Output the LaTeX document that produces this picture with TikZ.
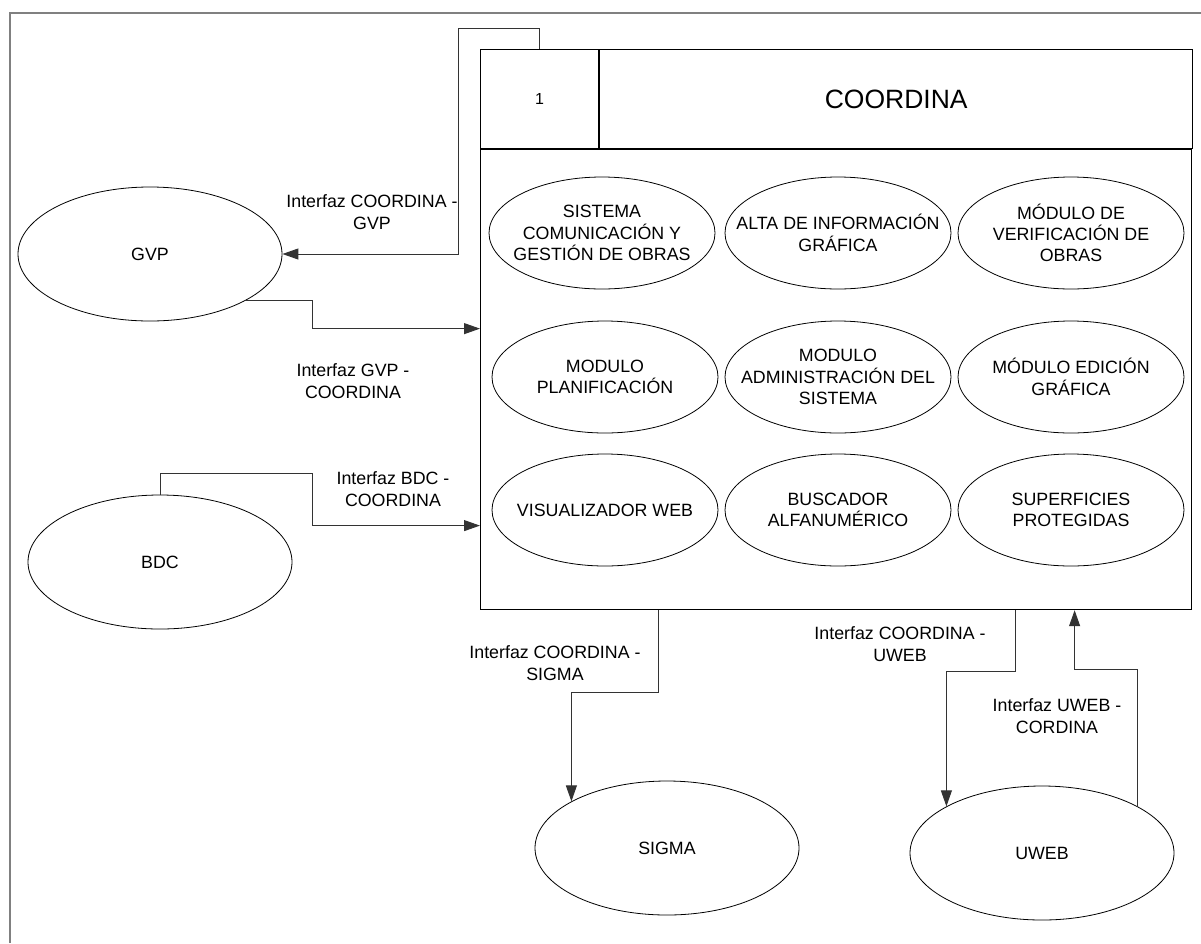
\documentclass[tikz,border=0pt]{standalone}
\usepackage{fontspec}
\setmainfont{Liberation Sans}
\usetikzlibrary{shapes.geometric,arrows.meta,calc}

\begin{document}
\begin{tikzpicture}[
    x=1pt, y=-1pt,
    every node/.style={font=\fontsize{17.8}{21.3}\selectfont},
    hdr/.style={draw, line width=1.1pt, minimum height=99pt, anchor=north west, inner sep=0pt},
    mod/.style={draw, ellipse, line width=0.8pt, minimum width=226pt, minimum height=112pt, inner xsep=-45pt, inner ysep=-15pt, align=center},
    ext/.style={draw, ellipse, line width=0.8pt, minimum width=264pt, minimum height=134pt, inner sep=0pt},
    lbl/.style={align=center, inner sep=0pt},
    flow/.style={draw=black!80, line width=1pt, -{Triangle[length=16pt,width=11pt]}}
  ]
  \useasboundingbox (0,0) rectangle (1201,943);
  \draw[black!50, line width=1.6pt] (10,943) -- (10,13) -- (1201,13);

  % process box
  \node[hdr, minimum width=118pt, font=\fontsize{16}{19}\selectfont] (num) at (480,49) {1};
  \node[hdr, minimum width=593pt, font=\fontsize{26.5}{30}\selectfont] (title) at (num.north east) {COORDINA};
  \node[hdr, minimum width=711pt, minimum height=460pt] (coord) at (num.south west) {};

  % modules
  \node[mod] (sis) at (602,233) {SISTEMA\\COMUNICACIÓN Y\\GESTIÓN DE OBRAS};
  \node[mod] (alta) at (838,233) {ALTA DE INFORMACIÓN\\GRÁFICA};
  \node[mod] (ver) at (1071,233) {MÓDULO DE\\VERIFICACIÓN DE\\OBRAS};
  \node[mod] (plan) at (605,377) {MODULO\\PLANIFICACIÓN};
  \node[mod] (adm) at (838,377) {MODULO\\ADMINISTRACIÓN DEL\\SISTEMA};
  \node[mod] (edi) at (1071,377) {MÓDULO EDICIÓN\\GRÁFICA};
  \node[mod] (vis) at (605,510) {VISUALIZADOR WEB};
  \node[mod] (bus) at (838,510) {BUSCADOR\\ALFANUMÉRICO};
  \node[mod] (sup) at (1071,510) {SUPERFICIES\\PROTEGIDAS};

  % external systems
  \node[ext] (gvp) at (150,254) {GVP};
  \node[ext] (bdc) at (160,562) {BDC};
  \node[ext] (sigma) at (667,848) {SIGMA};
  \node[ext] (uweb) at (1042,853) {UWEB};

  % interfaces
  \draw[flow] (num.north) -- ++(0,-21) -- ++(-81,0) coordinate (c1) -- (c1 |- gvp.east) -- (gvp.east);
  \draw[flow] (gvp.-26) -- ++(67,0) -- ++(0,28) coordinate (c2) -- (c2 -| coord.west);
  \draw[flow] (bdc.north) -- ++(0,-21) -- ++(152,0) -- ++(0,52) coordinate (c3) -- (c3 -| coord.west);
  \draw[flow] ($(coord.south west)+(178,0)$) -- ++(0,82) -| (sigma.154);
  \draw[flow] ($(coord.south west)+(535,0)$) -- ++(0,61) -| (uweb.154);
  \draw[flow] (uweb.26) -- ++(0,-137) -- ++(-63,0) coordinate (c4) -- (c4 |- coord.south);

  \node[lbl] (l1) at (372,212) {Interfaz COORDINA -\\GVP};
  \node[lbl] (l2) at (353,381) {Interfaz GVP -\\COORDINA};
  \node[lbl] (l3) at (393,489) {Interfaz BDC -\\COORDINA};
  \node[lbl] (l4) at (555,663) {Interfaz COORDINA -\\SIGMA};
  \node[lbl] (l5) at (900,644) {Interfaz COORDINA -\\UWEB};
  \node[lbl] (l6) at (1057,716) {Interfaz UWEB -\\CORDINA};
\end{tikzpicture}
\end{document}
